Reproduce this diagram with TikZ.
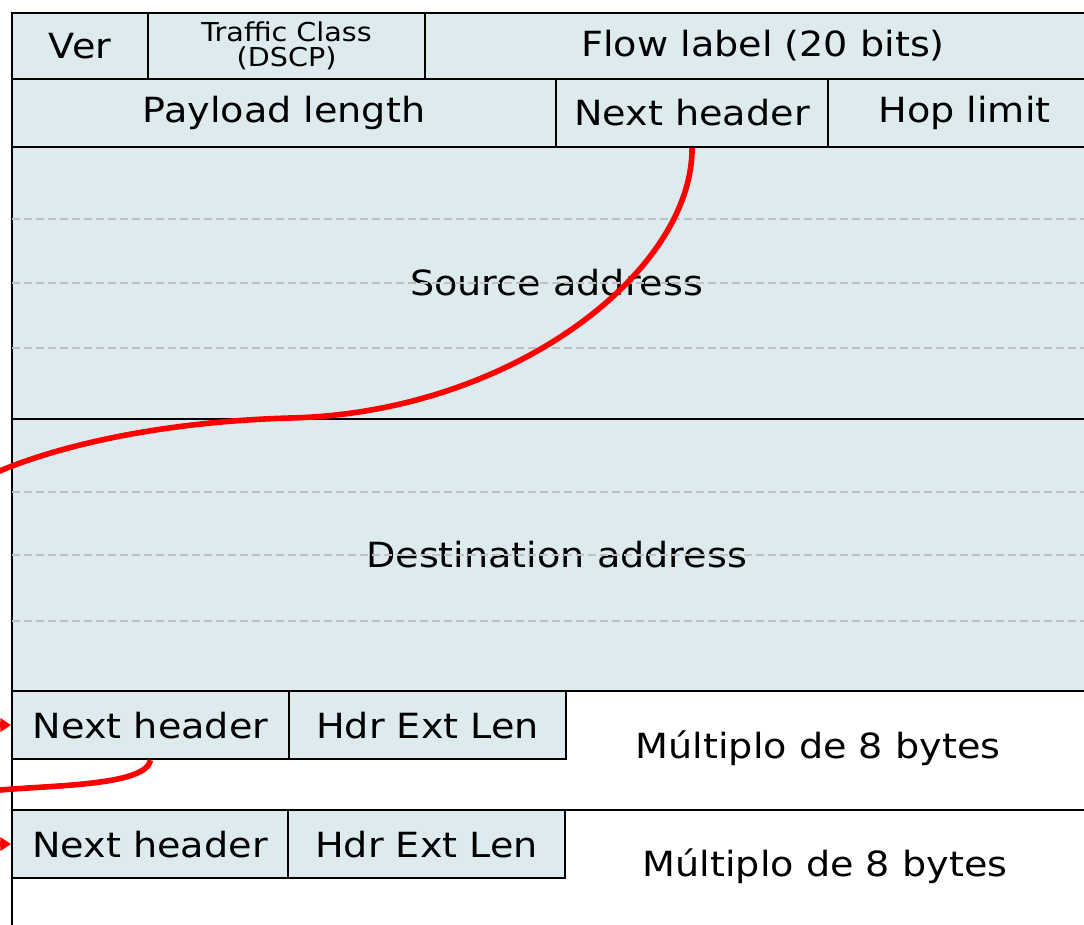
\documentclass[tikz,border=0pt]{standalone}
\usepackage{fontspec}
\setmainfont{DejaVu Sans}[FakeStretch=1.1]
\usetikzlibrary{arrows.meta}
\definecolor{hdrblue}{HTML}{DDEAEE}
\definecolor{rulegray}{HTML}{C0C0C0}
\definecolor{linkred}{HTML}{FF0000}

\begin{document}
\begin{tikzpicture}[x=0.75pt, y=-0.75pt,
  font=\fontsize{26}{29}\selectfont,
  field/.style 2 args={draw, line width=1.6pt, fill=hdrblue, inner sep=0pt, anchor=north west,
    minimum width=#1*0.75pt, minimum height=#2*0.75pt},
  extbox/.style 2 args={field={#1}{#2}, fill=white},
  small/.style={font=\fontsize{19.5}{19}\selectfont, align=center},
  rowline/.style={rulegray, line width=1.5pt, dash pattern=on 6pt off 3pt},
  nhlink/.style={linkred, line width=4.2pt, -{Triangle[length=8pt,width=10pt]}}]
\useasboundingbox (0,0) rectangle (1084,924);
\clip (0,0) rectangle (1084,924);
% extension headers
\node[extbox={1089}{119}] (ext1) at (11,690) {};
\node[extbox={1089}{150}] (ext2) at (11,809) {};
% fixed header
\node[field={136}{66}] (ver) at (11,12) {Ver};
\node[field={277}{66}, small] (tc) at (147,12) {Traffic Class\\(DSCP)};
\node[field={676}{66}] (flow) at (424,12) {Flow label (20 bits)};
\node[field={544}{68}] (plen) at (11,78) {Payload length};
\node[field={272}{68}] (nh) at (555,78) {Next header};
\node[field={273}{68}] (hop) at (827,78) {Hop limit};
\node[field={1089}{272}] (src) at (11,146) {Source address};
\node[field={1089}{272}] (dst) at (11,418) {Destination address};
\foreach \y in {219,283,348,492,555,621}
  \draw[rowline] (12,\y) -- (1100,\y);
% ext header fields
\node[field={277}{68}] (nh1) at (11,690) {Next header};
\node[field={277}{68}] (hel1) at (288,690) {Hdr Ext Len};
\node (mult1) at (818,748) {Múltiplo de 8 bytes};
\node[field={276}{68}] (nh2) at (11,809) {Next header};
\node[field={277}{68}] (hel2) at (287,809) {Hdr Ext Len};
\node (mult2) at (825,866) {Múltiplo de 8 bytes};
% next header chain
\draw[nhlink] (nh.south) .. controls +(0,125) and +(220,-5) .. (290,418)
  .. controls +(-140,4) and +(60,-30) .. (-20,480)
  .. controls +(-60,30) and +(-60,0) .. (nh1.west);
\draw[nhlink] (nh1.south) .. controls +(-5,25) and +(60,-5) .. (0,790)
  .. controls +(-40,3) and +(-40,0) .. (nh2.west);
\end{tikzpicture}
\end{document}
